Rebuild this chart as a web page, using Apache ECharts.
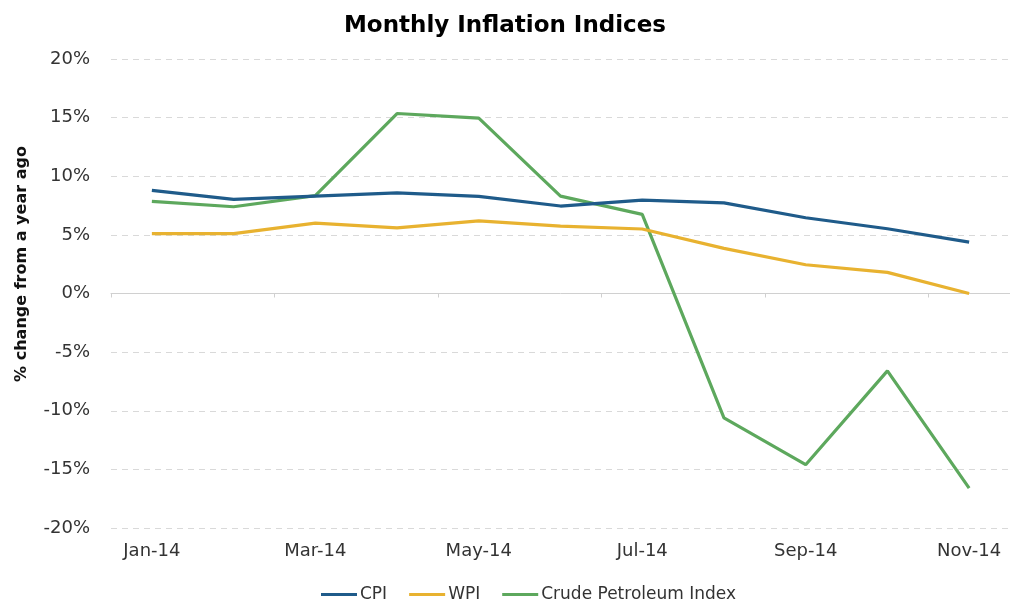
<!DOCTYPE html>
<html>
<head>
<meta charset="utf-8">
<script src="https://cdn.jsdelivr.net/npm/echarts@6/dist/echarts.min.js"></script>
<style>
  html, body { margin: 0; padding: 0; background: #fff; }
  #chart { width: 1010px; height: 599px; }
</style>
</head>
<body>
<div id="chart"></div>
<script>
// Months (2014)
const months = ['Jan-14', 'Feb-14', 'Mar-14', 'Apr-14', 'May-14', 'Jun-14',
                'Jul-14', 'Aug-14', 'Sep-14', 'Oct-14', 'Nov-14'];
// Year-over-year change, %
const cpi   = [8.79, 8.03, 8.31, 8.59, 8.28, 7.46, 7.96, 7.73, 6.46, 5.52, 4.38];
const wpi   = [5.10, 5.10, 6.00, 5.60, 6.20, 5.75, 5.50, 3.85, 2.45, 1.80, 0.00];
const crude = [7.85, 7.40, 8.35, 15.35, 14.95, 8.30, 6.75, -10.6, -14.6, -6.6, -16.6];
const seriesNames = ['CPI', 'WPI', 'Crude Petroleum Index'];
const seriesColors = ['#1F5B8A', '#E8B230', '#5DA85D'];
const yAxisTitle = '% change from a year ago';

const chart = echarts.init(document.getElementById('chart'));
const textColor = '#333';
const font = 'DejaVu Sans, Liberation Sans, Arial, sans-serif';

chart.setOption({
  backgroundColor: '#fff',
  animation: false,
  title: {
    text: 'Monthly Inflation Indices',
    left: 'center',
    top: 10,
    textStyle: { fontFamily: font, fontSize: 23, fontWeight: 'bold', color: '#000' }
  },
  legend: {
    top: 581,
    left: 316,
    icon: 'rect',
    itemWidth: 36,
    itemHeight: 3,
    itemGap: 22,
    textStyle: { fontFamily: font, fontSize: 17, color: textColor, padding: [0, 0, 0, -2] },
    data: seriesNames
  },
  // Rotated y-axis title
  graphic: [{
    type: 'text',
    x: 22,
    y: 264,
    rotation: Math.PI / 2,
    style: {
      text: yAxisTitle,
      align: 'center',
      verticalAlign: 'middle',
      font: 'bold 16px ' + font,
      fill: '#111'
    }
  }],
  grid: { left: 111, right: 0, top: 59, bottom: 71 },
  xAxis: [
    {
      type: 'category',
      data: months,
      boundaryGap: true,
      axisLine: { onZero: true, lineStyle: { color: '#d0d0d0', width: 1 } },
      axisTick: { show: true, interval: 1, length: 4, lineStyle: { color: '#d0d0d0' } },
      axisLabel: { show: false },
      splitLine: { show: false }
    },
    {
      type: 'category',
      data: months,
      boundaryGap: true,
      position: 'bottom',
      axisLine: { show: false, onZero: false },
      axisTick: { show: false },
      axisLabel: { interval: 1, margin: 14, fontFamily: font, fontSize: 18, color: textColor }
    }
  ],
  yAxis: {
    type: 'value',
    min: -20,
    max: 20,
    interval: 5,
    axisLine: { show: false },
    axisTick: { show: false },
    axisLabel: { formatter: '{value}%', margin: 21, fontFamily: font, fontSize: 18, color: textColor },
    splitLine: { lineStyle: { color: '#d9d9d9', type: [6, 5], width: 1 } }
  },
  series: [cpi, wpi, crude].map((d, i) => ({
    name: seriesNames[i],
    type: 'line',
    xAxisIndex: 0,
    data: d,
    symbol: 'none',
    lineStyle: { width: 3.2, color: seriesColors[i] },
    itemStyle: { color: seriesColors[i] },
    z: 3 - i
  }))
});
</script>
</body>
</html>
